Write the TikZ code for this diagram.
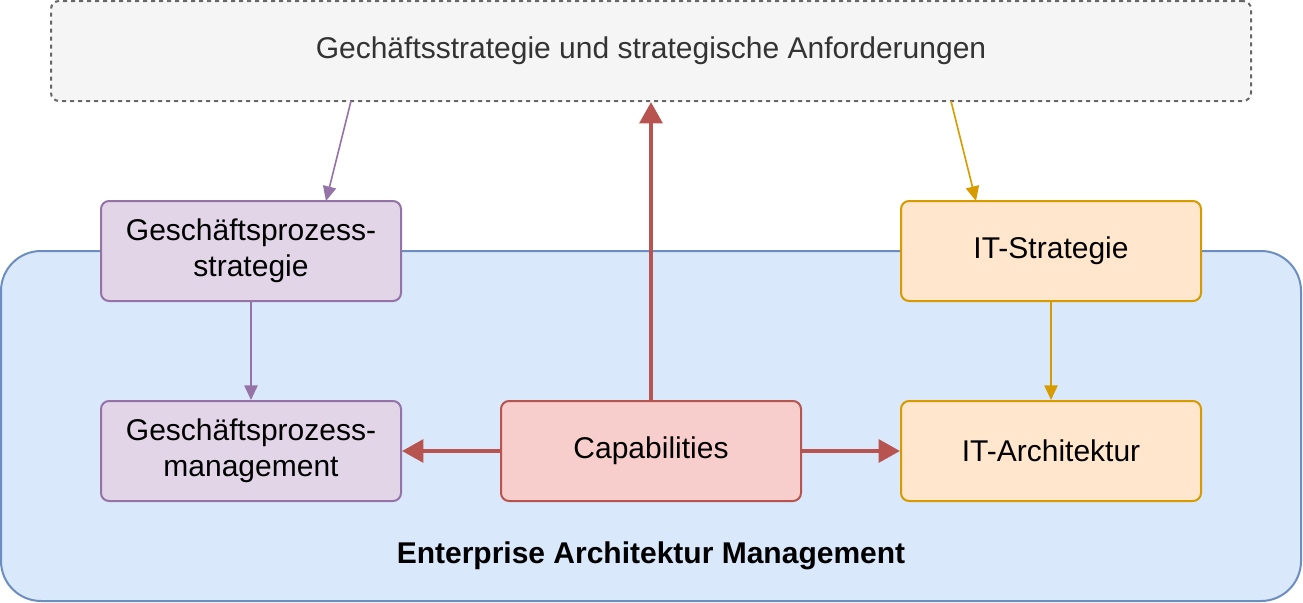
\documentclass[tikz,border=0pt]{standalone}
\usepackage{fontspec}
\setmainfont{Liberation Sans}
\usetikzlibrary{arrows.meta}
\definecolor{gfill}{HTML}{F5F5F5}\definecolor{gline}{HTML}{666666}
\definecolor{bfill}{HTML}{DAE8FC}\definecolor{bline}{HTML}{6C8EBF}
\definecolor{pfill}{HTML}{E1D5E7}\definecolor{pline}{HTML}{9673A6}
\definecolor{rfill}{HTML}{F8CECC}\definecolor{rline}{HTML}{B85450}
\definecolor{ofill}{HTML}{FFE6CC}\definecolor{oline}{HTML}{D79B00}
\begin{document}
\begin{tikzpicture}[x=0.75pt,y=-0.75pt,
  box/.style={draw,line width=1.5pt,rounded corners=6pt,minimum width=225pt,minimum height=75pt,align=center,font=\fontsize{22.5}{27}\selectfont,inner sep=0pt},
  pbox/.style={box,fill=pfill,draw=pline},
  obox/.style={box,fill=ofill,draw=oline},
  rbox/.style={box,fill=rfill,draw=rline},
  thin/.style={line width=1.2pt,-{Triangle[length=11pt,width=10pt]}},
  thick/.style={line width=3pt,rline,-{Triangle[length=16pt,width=17pt]}}]
\useasboundingbox (0,0) rectangle (1303,603);
\node[fill=bfill,draw=bline,line width=1.5pt,rounded corners=30pt,minimum width=975pt,minimum height=262.5pt,inner sep=0pt] (eam) at (651,426) {};
\node[font=\bfseries\fontsize{22.5}{27}\selectfont] (eaml) at (651,556) {Enterprise Architektur Management};
\node[box,fill=gfill,draw=gline,dashed,minimum width=900pt,text=black!80] (top) at (651,51) {Gechäftsstrategie und strategische Anforderungen};
\node[pbox] (gps) at (251,251) {Geschäftsprozess-\\strategie};
\node[pbox] (gpm) at (251,451) {Geschäftsprozess-\\management};
\node[rbox] (cap) at (651,451) {Capabilities};
\node[obox] (its) at (1051,251) {IT-Strategie};
\node[obox] (ita) at (1051,451) {IT-Architektur};
\coordinate (t1) at (351,101); \coordinate (t2) at (951,101);
\draw[thin,pline] (t1) -- (326,201);
\draw[thin,pline] (gps) -- (gpm);
\draw[thin,oline] (t2) -- (976,201);
\draw[thin,oline] (its) -- (ita);
\draw[thick] (cap) -- (top);
\draw[thick] (cap) -- (gpm);
\draw[thick] (cap) -- (ita);
\end{tikzpicture}
\end{document}
